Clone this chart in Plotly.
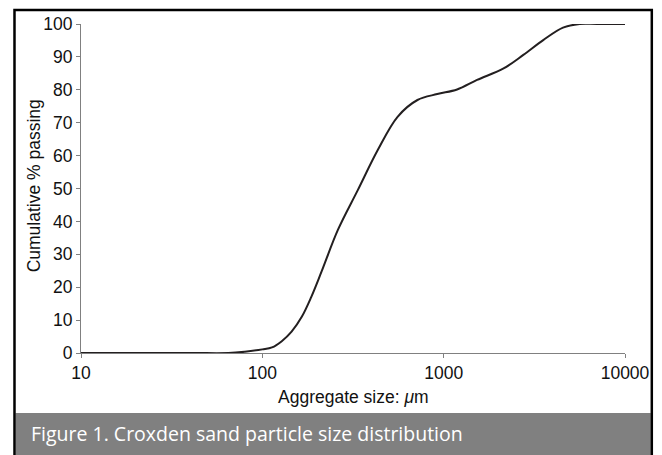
import plotly.graph_objects as go

# Particle size distribution (cumulative % passing vs aggregate size in µm)
size_um = [10, 40, 65, 80, 100, 113, 128, 145, 165, 186, 212, 261, 336, 433,
           557, 717, 922, 1186, 1528, 2140, 2750, 3540, 4550, 5620, 7000, 10000]
passing_pct = [0, 0, 0, 0.4, 1.1, 1.7, 3.6, 6.5, 11, 17, 24.7, 37.4, 49.5, 61.7,
               71.8, 76.9, 78.7, 80.1, 83, 86.5, 90.6, 95.1, 98.9, 100, 100, 100]

y_ticks = [0, 10, 20, 30, 40, 50, 60, 70, 80, 90, 100]
x_ticks = [10, 100, 1000, 10000]

W, H = 662, 455
L, R, T, B = 81, 33, 24, 102
PW, PH = W - L - R, H - T - B


def px(x):
    return (x - L) / PW


def py(y):
    return (H - B - y) / PH


fig = go.Figure()
fig.add_trace(go.Scatter(
    x=size_um, y=passing_pct, mode="lines",
    line=dict(color="#231f20", width=2, shape="spline", smoothing=1.0),
    hoverinfo="skip", showlegend=False,
))

sans = "Liberation Sans, Arial, sans-serif"
axis_font = dict(family=sans, size=17.5, color="#111111")

fig.update_xaxes(
    type="log", range=[1, 4], tickvals=x_ticks, ticktext=[str(v) for v in x_ticks],
    showline=True, linecolor="#808080", linewidth=1, showgrid=False, zeroline=False,
    ticks="outside", ticklen=4, tickcolor="#808080", tickfont=axis_font,
)
fig.update_yaxes(
    range=[0, 100], tickvals=y_ticks,
    showline=True, linecolor="#808080", linewidth=1, showgrid=False, zeroline=False,
    ticks="outside", ticklen=4, tickcolor="#808080", tickfont=axis_font,
)

shapes = [
    # grey caption bar
    dict(type="rect", xref="paper", yref="paper", layer="above",
         x0=px(15), x1=px(655), y0=py(413), y1=py(470),
         fillcolor="#808080", line=dict(width=0)),
    # outer frame
    dict(type="rect", xref="paper", yref="paper", layer="above",
         x0=px(14), x1=px(656), y0=py(480), y1=py(10),
         fillcolor="rgba(0,0,0,0)", line=dict(color="#000000", width=2.5)),
]

annotations = [
    dict(text="Aggregate size: <i>μ</i>m", xref="paper", yref="paper",
         x=0.5, y=py(397), xanchor="center", yanchor="middle", showarrow=False,
         font=dict(family=sans, size=17.5, color="#111111")),
    dict(text="Cumulative % passing", xref="paper", yref="paper",
         x=px(34), y=py(186), xanchor="center", yanchor="middle", showarrow=False,
         textangle=-90, font=dict(family=sans, size=17.5, color="#111111")),
    dict(text="Figure 1. Croxden sand particle size distribution",
         xref="paper", yref="paper", x=px(29), y=py(433),
         xanchor="left", yanchor="middle", showarrow=False,
         font=dict(family="Open Sans, Lato, sans-serif", size=19.5, color="#ffffff")),
]

fig.update_layout(
    width=W, height=H,
    margin=dict(l=L, r=R, t=T, b=B),
    paper_bgcolor="#ffffff", plot_bgcolor="#ffffff",
    shapes=shapes, annotations=annotations,
)

fig.write_html("out.html")
